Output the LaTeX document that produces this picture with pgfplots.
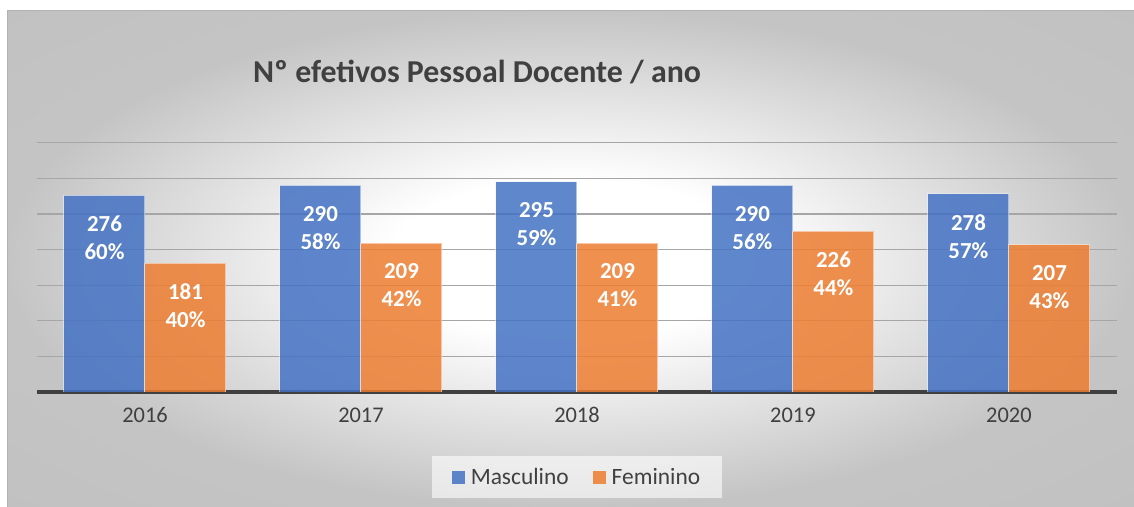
\documentclass[border=0pt]{standalone}
\usepackage{pgfplots}
\usepackage{pgfplotstable}
\pgfplotsset{compat=1.18}
\usepackage{fontspec}
\setmainfont{Carlito}
\definecolor{txt}{HTML}{404040}
\definecolor{mblue}{HTML}{4472C4}
\definecolor{forange}{HTML}{ED7D31}
\pgfdeclareradialshading{bgshade}{\pgfpoint{0bp}{0bp}}{color(0bp)=(white); color(8bp)=(white); color(25bp)=(black!23); color(50bp)=(black!26)}

\pgfplotstableread{
x y pct
0 276 60
1 290 58
2 295 59
3 290 56
4 278 57
}\masc
\pgfplotstableread{
x y pct
0 181 40
1 209 42
2 209 41
3 226 44
4 207 43
}\fem

\begin{document}
\begin{tikzpicture}
\useasboundingbox (0,0) rectangle (1134bp,507bp);
\shade[shading=bgshade] (7bp,0) rectangle (1134bp,496bp);
\draw[black!30, line width=1bp] (7bp,0) -- (7bp,496bp) -- (1134bp,496bp);
\node[anchor=west, font=\fontsize{32}{38}\selectfont\bfseries, text=txt, inner sep=0pt] at (253bp,435bp) {Nº efetivos Pessoal Docente / ano};
\begin{axis}[
  at={(37bp,115bp)}, anchor=south west,
  scale only axis, width=1080bp, height=249.3bp,
  xmin=-0.5, xmax=4.5, ymin=0, ymax=350,
  ytick={0,50,...,350}, yticklabels={},
  xtick={0,1,2,3,4}, xticklabels={2016,2017,2018,2019,2020},
  xticklabel style={font=\fontsize{22.5}{26}\selectfont, text=txt, yshift=-12bp},
  major tick length=0pt,
  axis x line*=bottom, axis y line*=left,
  x axis line style={draw=txt, line width=3bp, -},
  y axis line style={draw=none},
  ymajorgrids, grid style={draw=black!35, line width=1.3bp},
  ybar, bar width=81bp,
  /pgf/number format/assume math mode=true,
  legend style={at={(0.5,-0.341)}, anchor=center, legend columns=2,
    draw=none, fill=white, fill opacity=0.6, text opacity=1,
    font=\fontsize{23.5}{27}\selectfont, text=txt,
    inner xsep=20bp, inner ysep=10bp,
    /tikz/every even column/.append style={column sep=22bp}},
  legend image code/.code={\path (0bp,0bp) rectangle (16bp,0bp); \fill[#1, draw=none, fill opacity=0.85] (0bp,-6.5bp) rectangle (13bp,6.5bp);},
  nodes near coords={\pgfmathprintnumber{\pgfplotspointmeta}\\\pgfmathprintnumber[fixed,precision=0]{\pct}\%},
  every node near coord/.append style={anchor=north, align=center, text=white,
    font=\fontsize{23}{28}\selectfont\bfseries, yshift=-17bp, fill opacity=1},
]
\addplot[fill=mblue, fill opacity=0.85, draw=white, draw opacity=0.5, line width=1bp, bar shift=-40.5bp,
  visualization depends on={\thisrow{pct}\as\pct}] table[x=x, y=y, meta=y] {\masc};
\addlegendentry{Masculino}
\addplot[fill=forange, fill opacity=0.85, draw=white, draw opacity=0.5, line width=1bp, bar shift=40.5bp,
  visualization depends on={\thisrow{pct}\as\pct}] table[x=x, y=y, meta=y] {\fem};
\addlegendentry{Feminino}
\end{axis}
\end{tikzpicture}
\end{document}
